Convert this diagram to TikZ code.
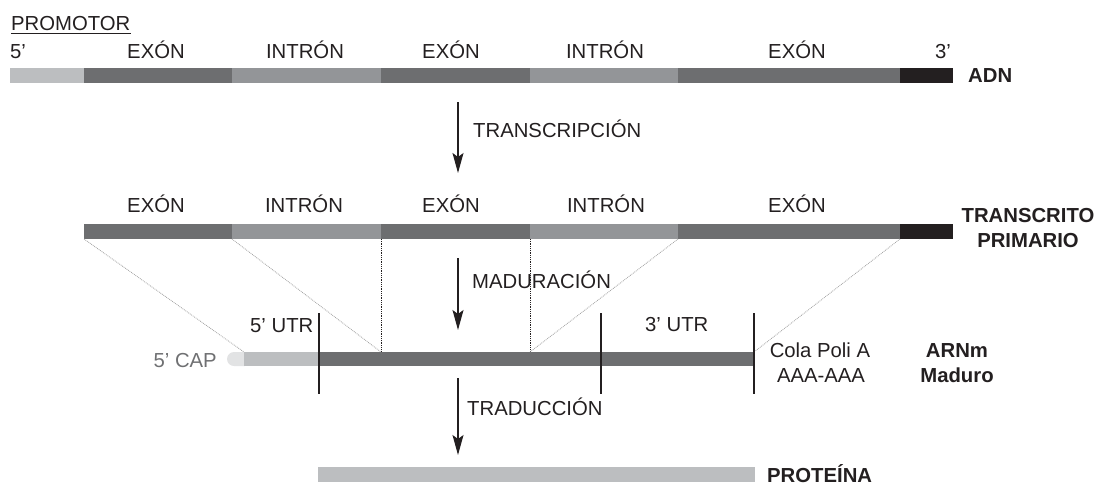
\documentclass[tikz,border=0pt]{standalone}
\usepackage{fontspec}
\setmainfont{Liberation Sans}
\usetikzlibrary{arrows.meta}
\definecolor{exon}{HTML}{6D6E70}
\definecolor{intron}{HTML}{939598}
\definecolor{pale}{HTML}{BCBEC0}
\definecolor{capgrey}{HTML}{E2E3E4}
\definecolor{ink}{HTML}{231F20}
\definecolor{captext}{HTML}{6F7072}
\begin{document}
\begin{tikzpicture}[x=1pt,y=-1pt,
  lbl/.style={font=\fontsize{20.3}{24}\selectfont, inner sep=0pt, text=ink, anchor=base},
  blbl/.style={lbl, font=\fontsize{20.3}{24}\selectfont\bfseries},
  flow/.style={-{Stealth[length=20pt,width=11pt,inset=4pt]}, line width=1.2pt, draw=ink},
  splice/.style={draw=black!38, densely dotted, line width=0.8pt},
  junction/.style={draw=ink, densely dotted, line width=0.8pt},
  border/.style={draw=ink, line width=1.3pt}]
\useasboundingbox (0,0) rectangle (1104,485);

% ---------- gene (DNA) ----------
\node[lbl, anchor=base west] (prom) at (11,30) {PROMOTOR};
\draw[ink, line width=0.9pt] ([yshift=-3pt]prom.base west) -- ([yshift=-3pt]prom.base east);
\node[lbl, anchor=base west] (d5) at (10,58) {5’};
\node[lbl] (dE1) at (156,58) {EXÓN};
\node[lbl] (dI1) at (305,58) {INTRÓN};
\node[lbl] (dE2) at (451,58) {EXÓN};
\node[lbl] (dI2) at (605,58) {INTRÓN};
\node[lbl] (dE3) at (797,58) {EXÓN};
\node[lbl, anchor=base west] (d3) at (935,58) {3’};

\fill[pale]   (10,68)  rectangle (84,83);
\fill[exon]   (84,68)  rectangle (232,83);
\fill[intron] (232,68) rectangle (381,83);
\fill[exon]   (381,68) rectangle (530,83);
\fill[intron] (530,68) rectangle (678,83);
\fill[exon]   (678,68) rectangle (900,83);
\fill[ink]    (900,68) rectangle (953,83);
\node[blbl, anchor=base west] (adn) at (968,82) {ADN};

% ---------- transcription ----------
\coordinate (t1) at (458,102);
\coordinate (t2) at (458,173);
\draw[flow] (t1) -- (t2);
\node[lbl, anchor=base west] (transc) at (473,137) {TRANSCRIPCIÓN};

% ---------- primary transcript ----------
\node[lbl] (pE1) at (156,212) {EXÓN};
\node[lbl] (pI1) at (304,212) {INTRÓN};
\node[lbl] (pE2) at (451,212) {EXÓN};
\node[lbl] (pI2) at (606,212) {INTRÓN};
\node[lbl] (pE3) at (797,212) {EXÓN};

\fill[exon]   (84,224)  rectangle (232,239);
\fill[intron] (232,224) rectangle (381,239);
\fill[exon]   (381,224) rectangle (530,239);
\fill[intron] (530,224) rectangle (678,239);
\fill[exon]   (678,224) rectangle (900,239);
\fill[ink]    (900,224) rectangle (953,239);
\node[blbl] (tp1) at (1028,222) {TRANSCRITO};
\node[blbl] (tp2) at (1028,247) {PRIMARIO};

% boundaries on the primary transcript
\coordinate (pa) at (84,239);
\coordinate (pb) at (232,239);
\coordinate (pc) at (381,239);
\coordinate (pd) at (530,239);
\coordinate (pe) at (678,239);
\coordinate (pf) at (900,239);

% ---------- maturation ----------
\coordinate (m1) at (458,258);
\coordinate (m2) at (458,330);
\draw[flow] (m1) -- (m2);
\node[lbl, anchor=base west] (madur) at (472,288) {MADURACIÓN};

% ---------- mature mRNA ----------
\fill[capgrey] (245,352) -- (234,352) arc (270:90:7) -- (245,366) -- cycle;
\fill[pale] (244,352) rectangle (319,366);
\fill[exon] (319,352) rectangle (754,366);

\coordinate (ma) at (244,352);
\coordinate (mc) at (381,352);
\coordinate (md) at (530,352);
\coordinate (mf) at (754,352);

\draw[splice] (pa) -- (ma);
\draw[splice] (pb) -- (mc);
\draw[junction] (pc) -- (mc);
\draw[junction] (pd) -- (md);
\draw[splice] (pe) -- (md);
\draw[splice] (pf) -- (mf);

\coordinate (u1) at (319,313); \coordinate (u1b) at (319,394);
\coordinate (u2) at (601,313); \coordinate (u2b) at (601,394);
\coordinate (u3) at (754,313); \coordinate (u3b) at (754,394);
\draw[border] (u1) -- (u1b);
\draw[border] (u2) -- (u2b);
\draw[border] (u3) -- (u3b);

\node[lbl, anchor=base west] (utr5) at (250,332) {5’ UTR};
\node[lbl, anchor=base west] (utr3) at (645,331) {3’ UTR};
\node[lbl, anchor=base east, text=captext] (cap) at (217,367) {5’ CAP};
\node[lbl] (cola) at (820,357) {Cola Poli A};
\node[lbl] (aaa) at (821,382) {AAA-AAA};
\node[blbl] (arn1) at (957,357) {ARNm};
\node[blbl] (arn2) at (957,382) {Maduro};

% ---------- translation ----------
\coordinate (r1) at (458,378);
\coordinate (r2) at (458,455);
\draw[flow] (r1) -- (r2);
\node[lbl, anchor=base west] (tradu) at (467,415) {TRADUCCIÓN};

\fill[pale] (318,467) rectangle (755,482);
\node[blbl, anchor=base west] (prot) at (767,482) {PROTEÍNA};
\end{tikzpicture}
\end{document}
